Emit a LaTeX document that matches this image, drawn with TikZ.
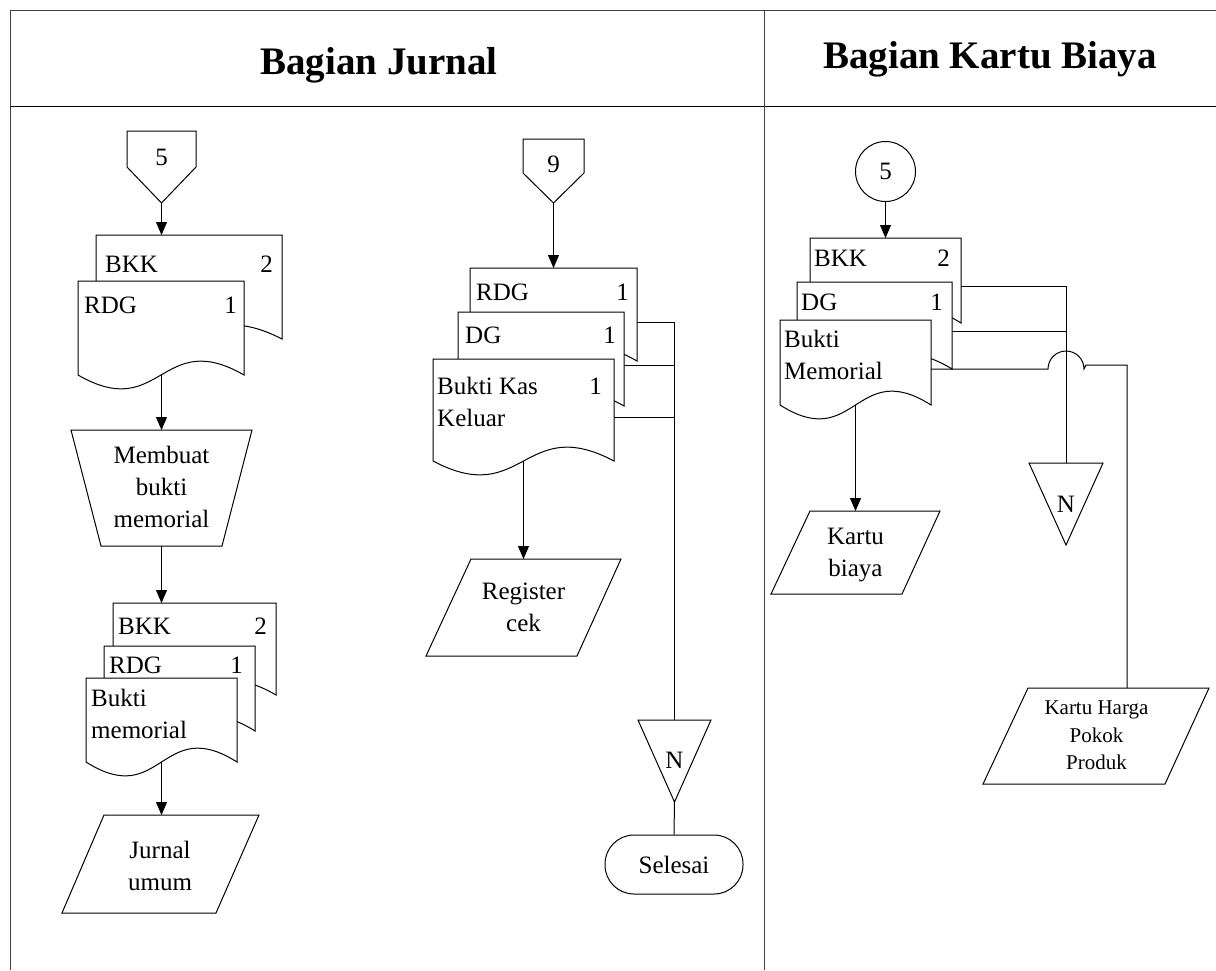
\documentclass[tikz,border=0pt]{standalone}
\usepackage{fontspec}
\setmainfont{Liberation Serif}
\usetikzlibrary{arrows.meta}

\tikzset{
  ln/.style={line width=1pt, black},
  shp/.style={ln, fill=white},
  flow/.style={ln, -{Triangle[length=13pt,width=11pt]}},
  wire/.style={ln},
  lbl/.style={inner sep=0pt, font=\fontsize{25}{32}\selectfont},
  mlbl/.style={lbl, align=center},
  llbl/.style={lbl, align=left, anchor=north west},
  small/.style={inner sep=0pt, font=\fontsize{21}{27.5}\selectfont, align=center},
  head/.style={inner sep=0pt, anchor=base, font=\fontsize{39}{44}\selectfont\bfseries},
}

% document symbol: name, left, top, right, bottom (page units, y downwards)
\newcommand\docu[5]{%
  \draw[shp] (#2,-#3) -- (#4,-#3) -- (#4,-#5)
    .. controls ({(#2+#4)/2},{-#5+48}) and ({(#2+#4)/2},{-#5-48}) .. (#2,-#5) -- cycle;
  \coordinate (#1-nw) at (#2,-#3);
}

\begin{document}
\begin{tikzpicture}[x=1pt,y=1pt]
\useasboundingbox (0,0) rectangle (1216,-970);

% frame and swimlane headers
\draw[ln, black!75] (1216,-10.5) -- (10.5,-10.5) -- (10.5,-970);
\draw[ln] (10.5,-106.5) -- (1216,-106.5);
\draw[ln, black!75] (764,-10.5) -- (764,-970);
\node[head] (h1) at (379,-74) {Bagian Jurnal};
\node[head] (h2) at (990,-68) {Bagian Kartu Biaya};

%% ---------------- Bagian Jurnal, first flow ----------------
\draw[shp] (127,-131) -- (196,-131) -- (196,-167) -- (161.5,-203) -- (127,-167) -- cycle;
\node[lbl] (opA) at (161.5,-157.5) {5};
\coordinate (opA-s) at (161.5,-203);

\docu{jA}{96}{235}{282}{339}
\docu{jB}{78}{281}{244}{375}
\node[lbl, anchor=base west] (jA-t) at (105,-272) {BKK};
\node[lbl, anchor=base east] (jA-n) at (273,-272) {2};
\node[lbl, anchor=base west] (jB-t) at (84,-313) {RDG};
\node[lbl, anchor=base east] (jB-n) at (237,-313) {1};
\coordinate (jA-in) at (161.5,-235);
\coordinate (jB-s) at (161.5,-375);

\draw[shp] (71,-430) -- (252,-430) -- (222,-546) -- (101,-546) -- cycle;
\node[mlbl] (mb) at (161.5,-487) {Membuat\\bukti\\memorial};
\coordinate (mb-n) at (161.5,-430);
\coordinate (mb-s) at (161.5,-546);

\docu{jC}{113}{603}{276}{695}
\docu{jD}{104}{646}{255}{731}
\docu{jE}{86}{678}{237}{762}
\node[lbl, anchor=base west] (jC-t) at (118,-634) {BKK};
\node[lbl, anchor=base east] (jC-n) at (267,-634) {2};
\node[lbl, anchor=base west] (jD-t) at (109,-673) {RDG};
\node[lbl, anchor=base east] (jD-n) at (243,-673) {1};
\node[llbl] (jE-t) at (91,-689) {Bukti\\memorial};
\coordinate (jC-in) at (161.5,-603);
\coordinate (jE-s) at (161.5,-762);

\draw[shp] (104,-815) -- (259,-815) -- (216,-913) -- (62,-913) -- cycle;
\node[mlbl] (ju) at (160,-866) {Jurnal\\umum};
\coordinate (ju-n) at (161.5,-815);

\draw[flow] (opA-s) -- (jA-in);
\draw[flow] (jB-s) -- (mb-n);
\draw[flow] (mb-s) -- (jC-in);
\draw[flow] (jE-s) -- (ju-n);

%% ---------------- Bagian Jurnal, second flow ----------------
\draw[shp] (523,-139) -- (584,-139) -- (584,-173) -- (553.5,-203) -- (523,-173) -- cycle;
\node[lbl] (opB) at (553.5,-164) {9};
\coordinate (opB-s) at (553.5,-203);

\docu{mA}{470}{268}{637}{361}
\docu{mB}{458}{312}{624}{406}
\docu{mC}{433}{359}{614}{461}
\node[lbl, anchor=base west] (mA-t) at (476,-300) {RDG};
\node[lbl, anchor=base east] (mA-n) at (629,-300) {1};
\node[lbl, anchor=base west] (mB-t) at (465,-343) {DG};
\node[lbl, anchor=base east] (mB-n) at (616,-343) {1};
\node[llbl] (mC-t) at (437,-377) {Bukti Kas\\Keluar};
\node[lbl, anchor=base east] (mC-n) at (602,-394) {1};
\coordinate (mA-in) at (553.5,-268);
\coordinate (mA-e) at (637,-322);
\coordinate (mB-e) at (624,-365);
\coordinate (mC-e) at (614,-417);
\coordinate (mC-s) at (523.5,-461);

\coordinate (busA) at (674.5,-322);
\coordinate (busB) at (674.5,-365);
\coordinate (busC) at (674.5,-417);

\draw[shp] (471,-559) -- (621,-559) -- (577,-656) -- (426,-656) -- cycle;
\node[mlbl] (rc) at (523.5,-607) {Register\\cek};
\coordinate (rc-n) at (523.5,-559);

\draw[shp] (638,-720) -- (711,-720) -- (674.5,-802) -- cycle;
\node[lbl] (nA) at (674.5,-760) {N};
\coordinate (nA-n) at (674.5,-720);
\coordinate (nA-s) at (674.5,-802);

\node[ln, draw, fill=white, rounded corners=29pt, minimum width=138pt,
      minimum height=59pt, inner sep=0pt, font=\fontsize{25}{32}\selectfont]
      (end) at (674,-864.5) {Selesai};

\draw[flow] (opB-s) -- (mA-in);
\draw[flow] (mC-s) -- (rc-n);
\draw[wire] (mA-e) -- (busA);
\draw[wire] (mB-e) -- (busB);
\draw[wire] (mC-e) -- (busC);
\draw[wire] (busA) -- (nA-n);
\draw[wire] (nA-s) -- (end.north);

%% ---------------- Bagian Kartu Biaya ----------------
\node[ln, draw, fill=white, circle, minimum size=60pt, inner sep=0pt,
      font=\fontsize{25}{32}\selectfont] (opC) at (885.5,-171.5) {5};

\docu{rA}{810}{238}{961}{323}
\docu{rB}{797}{282}{952}{369}
\docu{rC}{780}{320}{931}{405}
\node[lbl, anchor=base west] (rA-t) at (814,-266) {BKK};
\node[lbl, anchor=base east] (rA-n) at (950,-266) {2};
\node[lbl, anchor=base west] (rB-t) at (801,-310) {DG};
\node[lbl, anchor=base east] (rB-n) at (943,-310) {1};
\node[llbl] (rC-t) at (784,-330) {Bukti\\Memorial};
\coordinate (rA-in) at (885.5,-238);
\coordinate (rA-e) at (961,-286);
\coordinate (rB-e) at (952,-331);
\coordinate (rC-e) at (931,-369);
\coordinate (rC-s) at (855.5,-405);

\coordinate (busD) at (1066,-286);
\coordinate (busE) at (1066,-331);
\coordinate (hop) at (1048,-369);
\coordinate (kh-turn) at (1127,-365);

\draw[shp] (1029,-463) -- (1103,-463) -- (1066,-545) -- cycle;
\node[lbl] (nB) at (1066,-504.5) {N};
\coordinate (nB-n) at (1066,-463);

\draw[shp] (810,-511) -- (940,-511) -- (902,-594) -- (771,-594) -- cycle;
\node[mlbl] (kb) at (855.5,-555.5) {Kartu\\biaya};
\coordinate (kb-n) at (855.5,-511);

\draw[shp] (1028,-688) -- (1209,-688) -- (1165,-784) -- (983,-784) -- cycle;
\node[small] (kh) at (1096.5,-735.5) {Kartu Harga\\Pokok\\Produk};
\coordinate (kh-n) at (1127,-688);

\draw[flow] (opC.south) -- (rA-in);
\draw[flow] (rC-s) -- (kb-n);
\draw[wire] (rA-e) -- (busD);
\draw[wire] (rB-e) -- (busE);
\draw[wire] (busD) -- (nB-n);
\draw[wire] (rC-e) -- (hop) arc[start angle=180, end angle=0, radius=18]
  -- (1086,-365) -- (kh-turn) -- (kh-n);

\end{tikzpicture}
\end{document}
